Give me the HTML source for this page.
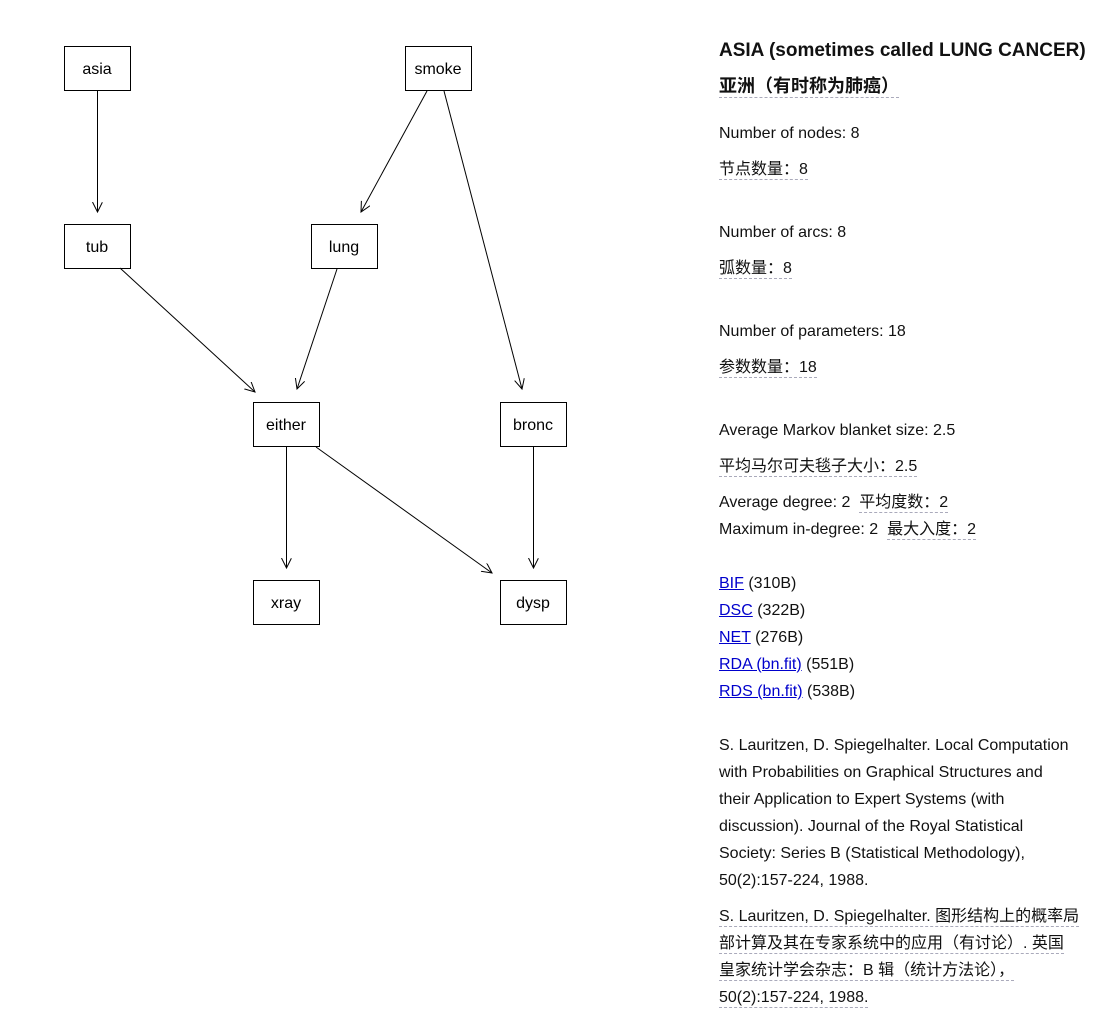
<!DOCTYPE html>
<html><head><meta charset="utf-8"><style>
body{margin:0;width:1108px;height:1030px;background:#fff;font-family:"Liberation Sans","Noto Sans CJK SC",sans-serif;color:#111;overflow:hidden}
.t{position:absolute;left:719px;font-size:16px;line-height:27px;white-space:nowrap}
.d{border-bottom:1px dashed #aab;padding-bottom:1px}
a{color:#00c;text-decoration:underline}
.h{font-weight:bold;font-size:19px}
</style></head><body>
<svg width="700" height="700" style="position:absolute;left:0;top:0" font-family="Liberation Sans,sans-serif" font-size="16">
<defs><marker id="m" markerWidth="12" markerHeight="12" refX="10" refY="5" orient="auto" markerUnits="userSpaceOnUse"><path d="M0,0 L10,5 L0,10" fill="none" stroke="#000"/></marker></defs>
<g fill="#fff" stroke="#000">
<rect x="64.5" y="46.5" width="66" height="44"/><rect x="405.5" y="46.5" width="66" height="44"/>
<rect x="64.5" y="224.5" width="66" height="44"/><rect x="311.5" y="224.5" width="66" height="44"/>
<rect x="253.5" y="402.5" width="66" height="44"/><rect x="500.5" y="402.5" width="66" height="44"/>
<rect x="253.5" y="580.5" width="66" height="44"/><rect x="500.5" y="580.5" width="66" height="44"/>
</g>
<g stroke="#000" fill="none" marker-end="url(#m)">
<line x1="97.5" y1="91" x2="97.5" y2="212"/>
<line x1="427" y1="91" x2="361" y2="212"/>
<line x1="444" y1="91" x2="522" y2="389"/>
<line x1="120" y1="268" x2="255" y2="392"/>
<line x1="337" y1="269" x2="297" y2="389"/>
<line x1="286.5" y1="447" x2="286.5" y2="568"/>
<line x1="316" y1="447" x2="492" y2="573"/>
<line x1="533.5" y1="447" x2="533.5" y2="568"/>
</g>
<g text-anchor="middle" fill="#000">
<text x="97" y="74">asia</text><text x="438" y="74">smoke</text>
<text x="97" y="252">tub</text><text x="344" y="252">lung</text>
<text x="286" y="430">either</text><text x="533" y="430">bronc</text>
<text x="286" y="608">xray</text><text x="533" y="608">dysp</text>
</g>
</svg>
<div class="t h" style="top:37px">ASIA (sometimes called LUNG CANCER)</div>
<div class="t h" style="top:73px;font-size:18px"><span class="d">亚洲（有时称为肺癌）</span></div>
<div class="t" style="top:120px">Number of nodes: 8</div>
<div class="t" style="top:156px"><span class="d">节点数量：8</span></div>
<div class="t" style="top:219px">Number of arcs: 8</div>
<div class="t" style="top:255px"><span class="d">弧数量：8</span></div>
<div class="t" style="top:318px">Number of parameters: 18</div>
<div class="t" style="top:354px"><span class="d">参数数量：18</span></div>
<div class="t" style="top:417px">Average Markov blanket size: 2.5</div>
<div class="t" style="top:453px"><span class="d">平均马尔可夫毯子大小：2.5</span></div>
<div class="t" style="top:489px">Average degree: 2 &nbsp;<span class="d">平均度数：2</span><br>Maximum in-degree: 2 &nbsp;<span class="d">最大入度：2</span></div>
<div class="t" style="top:570px"><a>BIF</a> (310B)<br><a>DSC</a> (322B)<br><a>NET</a> (276B)<br><a>RDA (bn.fit)</a> (551B)<br><a>RDS (bn.fit)</a> (538B)</div>
<div class="t" style="top:732px">S. Lauritzen, D. Spiegelhalter. Local Computation<br>with Probabilities on Graphical Structures and<br>their Application to Expert Systems (with<br>discussion). Journal of the Royal Statistical<br>Society: Series B (Statistical Methodology),<br>50(2):157-224, 1988.</div>
<div class="t" style="top:903px"><span class="d">S. Lauritzen, D. Spiegelhalter. 图形结构上的概率局</span><br><span class="d">部计算及其在专家系统中的应用（有讨论）. 英国</span><br><span class="d">皇家统计学会杂志：B 辑（统计方法论），</span><br><span class="d">50(2):157-224, 1988.</span></div>
</body></html>
